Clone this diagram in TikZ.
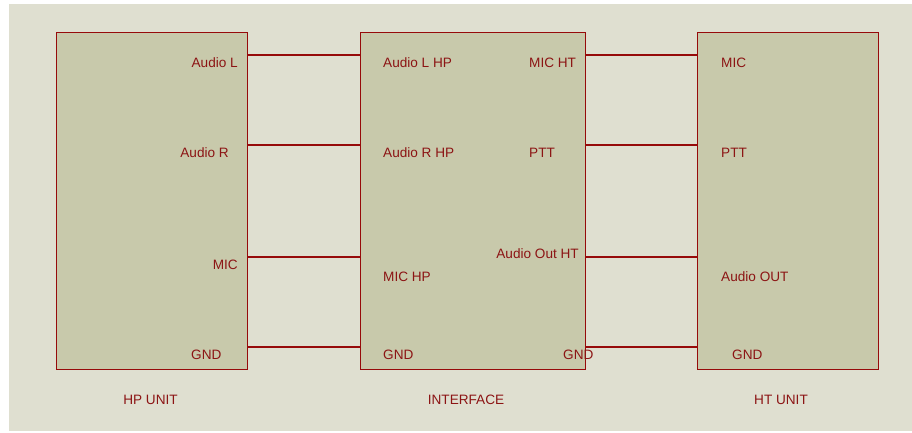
\documentclass[tikz,border=0pt]{standalone}
\usepackage{fontspec}
\setmainfont{Liberation Sans}
\definecolor{bgc}{RGB}{223,223,208}
\definecolor{boxc}{RGB}{200,201,171}
\definecolor{linec}{RGB}{150,10,10}
\definecolor{txtc}{RGB}{140,20,20}
\tikzset{
  unitbox/.style={draw=linec, fill=boxc, line width=1.4pt, rectangle, inner sep=0pt, anchor=north west},
  wire/.style={draw=linec, line width=1.4pt},
  lbl/.style={text=txtc, inner sep=0pt, font=\fontsize{13.6}{16}\selectfont},
}
\begin{document}
\begin{tikzpicture}[x=1pt,y=-1pt]
\fill[white] (0,0) rectangle (912,433);
\useasboundingbox (0,0) rectangle (912,433);
\fill[bgc] (9,4) rectangle (912,431);
% boxes
\node[unitbox, minimum width=191pt, minimum height=337pt] (hp) at (56,32) {};
\node[unitbox, minimum width=225pt, minimum height=337pt] (if) at (360,32) {};
\node[unitbox, minimum width=181pt, minimum height=337pt] (ht) at (697,32) {};
% pin coordinates
\coordinate (hpA) at (hp.east |- 0,55);
\coordinate (hpB) at (hp.east |- 0,145);
\coordinate (hpC) at (hp.east |- 0,257);
\coordinate (hpD) at (hp.east |- 0,347);
\coordinate (ifLA) at (if.west |- 0,55);
\coordinate (ifLB) at (if.west |- 0,145);
\coordinate (ifLC) at (if.west |- 0,257);
\coordinate (ifLD) at (if.west |- 0,347);
\coordinate (ifRA) at (if.east |- 0,55);
\coordinate (ifRB) at (if.east |- 0,145);
\coordinate (ifRC) at (if.east |- 0,257);
\coordinate (ifRD) at (if.east |- 0,347);
\coordinate (htA) at (ht.west |- 0,55);
\coordinate (htB) at (ht.west |- 0,145);
\coordinate (htC) at (ht.west |- 0,257);
\coordinate (htD) at (ht.west |- 0,347);
% wires
\draw[wire] (hpA) -- (ifLA);
\draw[wire] (hpB) -- (ifLB);
\draw[wire] (hpC) -- (ifLC);
\draw[wire] (hpD) -- (ifLD);
\draw[wire] (ifRA) -- (htA);
\draw[wire] (ifRB) -- (htB);
\draw[wire] (ifRC) -- (htC);
\draw[wire] (ifRD) -- (htD);
% HP labels
\node[lbl, anchor=east] (t1) at (238,63) {Audio L};
\node[lbl, anchor=east] (t2) at (229,153) {Audio R};
\node[lbl, anchor=east] (t3) at (238,265) {MIC};
\node[lbl, anchor=west] (t4) at (191,355) {GND};
% interface labels
\node[lbl, anchor=west] (t5) at (383,63) {Audio L HP};
\node[lbl, anchor=west] (t6) at (383,153) {Audio R HP};
\node[lbl, anchor=west] (t7) at (383,277) {MIC HP};
\node[lbl, anchor=west] (t8) at (383,355) {GND};
\node[lbl, anchor=west] (t9) at (529,63) {MIC HT};
\node[lbl, anchor=west] (t10) at (529,153) {PTT};
\node[lbl, anchor=east] (t11) at (579,254) {Audio Out HT};
\node[lbl, anchor=west] (t12) at (563,355) {GND};
% HT labels
\node[lbl, anchor=west] (t13) at (721,63) {MIC};
\node[lbl, anchor=west] (t14) at (721,153) {PTT};
\node[lbl, anchor=west] (t15) at (721,277) {Audio OUT};
\node[lbl, anchor=west] (t16) at (732,355) {GND};
% titles
\node[lbl] (c1) at (150.5,400) {HP UNIT};
\node[lbl] (c2) at (466,400) {INTERFACE};
\node[lbl] (c3) at (781,400) {HT UNIT};
\end{tikzpicture}
\end{document}
